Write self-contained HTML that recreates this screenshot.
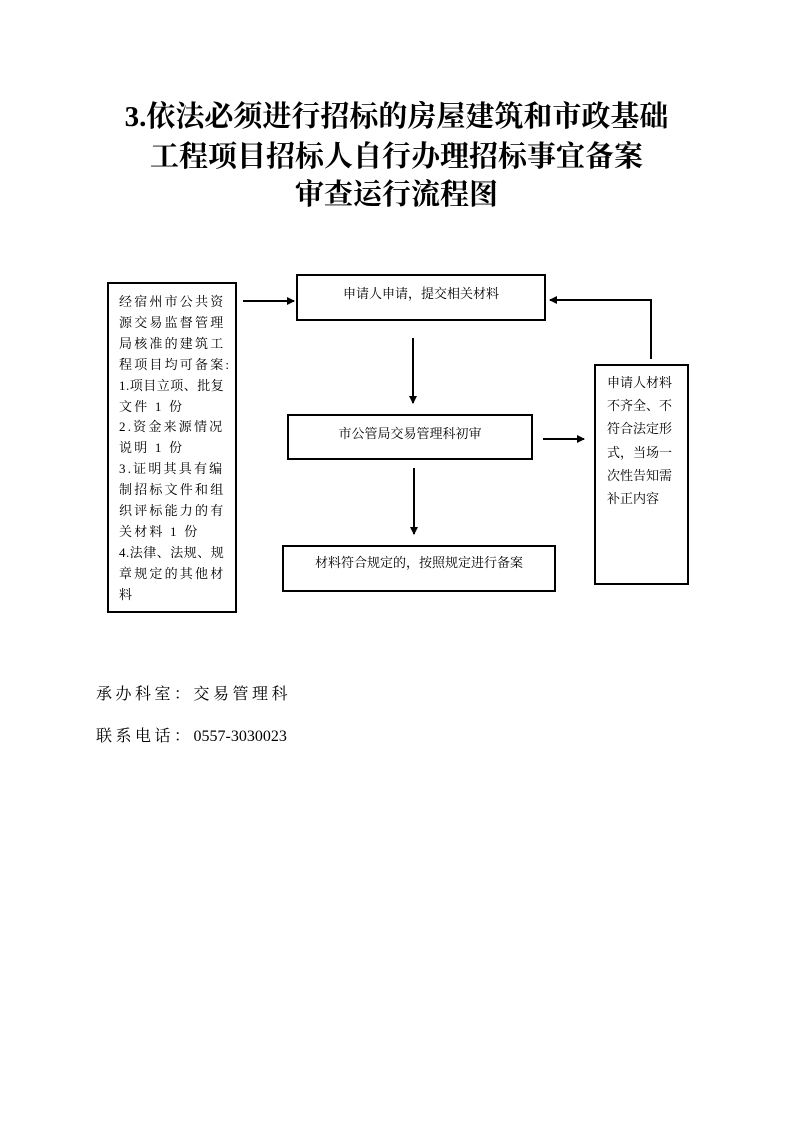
<!DOCTYPE html>
<html><head><meta charset="utf-8"><style>
body{margin:0;width:793px;height:1122px;background:#fff;position:relative;font-family:"Liberation Serif","Noto Serif CJK SC",serif;color:#000}
.t{position:absolute;left:0;width:793px;text-align:center;font-weight:bold;font-size:29px;line-height:38px}
.b{position:absolute;border:2px solid #000;box-sizing:border-box;font-size:13px;white-space:nowrap}
.f{position:absolute;left:96px;font-size:16px;letter-spacing:3.5px}
</style></head><body>
<div class="t" style="top:98px">3.依法必须进行招标的房屋建筑和市政基础</div>
<div class="t" style="top:138px">工程项目招标人自行办理招标事宜备案</div>
<div class="t" style="top:176px">审查运行流程图</div>

<div class="b" style="left:107px;top:282px;width:130px;height:331px;padding:8px 0 0 10px;line-height:20.9px;letter-spacing:2.2px">经宿州市公共资<br>源交易监督管理<br>局核准的建筑工<br>程项目均可备案:<br><span style="letter-spacing:0.5px">1.项目立项、批复</span><br>文件 1 份<br>2.资金来源情况<br>说明 1 份<br>3.证明其具有编<br>制招标文件和组<br>织评标能力的有<br>关材料 1 份<br><span style="letter-spacing:0.5px">4.法律、法规、规</span><br>章规定的其他材<br>料</div>
<div class="b" style="left:296px;top:274px;width:250px;height:47px;text-align:center;padding-top:8px;line-height:20px">申请人申请，提交相关材料</div>
<div class="b" style="left:287px;top:414px;width:246px;height:46px;text-align:center;padding-top:8px;line-height:20px">市公管局交易管理科初审</div>
<div class="b" style="left:282px;top:545px;width:274px;height:47px;text-align:center;padding-top:6px;line-height:20px">材料符合规定的，按照规定进行备案</div>
<div class="b" style="left:594px;top:364px;width:95px;height:221px;padding:5px 0 0 11px;line-height:23.2px">申请人材料<br>不齐全、不<br>符合法定形<br>式，当场一<br>次性告知需<br>补正内容</div>

<svg width="793" height="1122" style="position:absolute;left:0;top:0">
<defs><marker id="a" markerWidth="8" markerHeight="8" refX="7" refY="4" orient="auto" markerUnits="userSpaceOnUse"><path d="M0,0L8,4L0,8z"/></marker></defs>
<g stroke="#000" stroke-width="2" fill="none">
<line x1="243" y1="301" x2="294" y2="301" marker-end="url(#a)"/>
<polyline points="651,359 651,300 550,300" marker-end="url(#a)"/>
<line x1="413" y1="338" x2="413" y2="403" marker-end="url(#a)"/>
<line x1="414" y1="468" x2="414" y2="534" marker-end="url(#a)"/>
<line x1="543" y1="439" x2="584" y2="439" marker-end="url(#a)"/>
</g></svg>

<div class="f" style="top:681px">承办科室：交易管理科</div>
<div class="f" style="top:723px">联系电话：<span style="letter-spacing:0">0557-3030023</span></div>
</body></html>
